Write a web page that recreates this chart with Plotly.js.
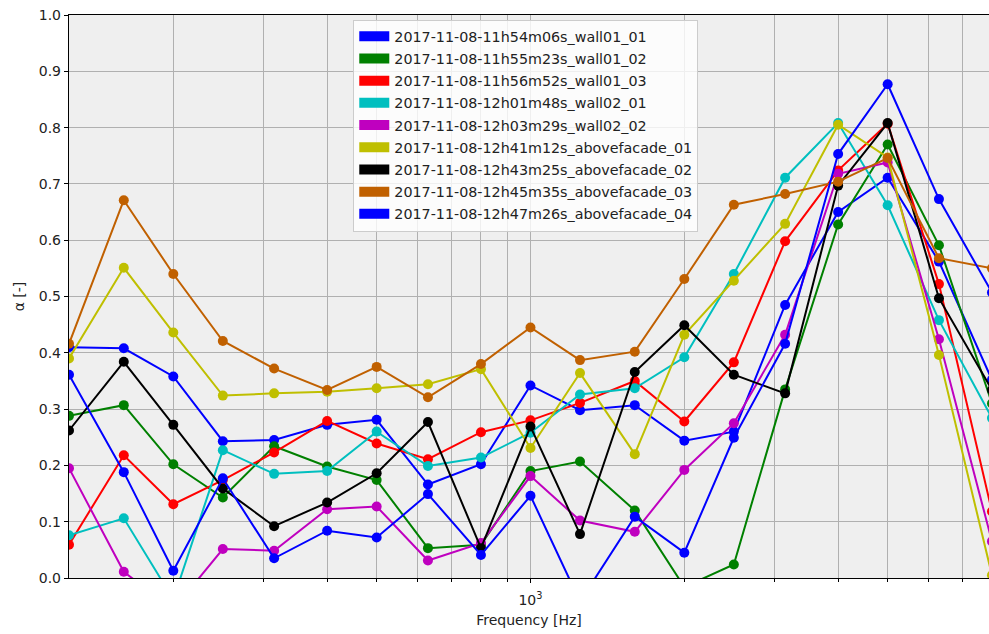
<!DOCTYPE html>
<html>
<head>
<meta charset="utf-8">
<script src="https://cdn.plot.ly/plotly-3.0.1.min.js"></script>
<style>html,body{margin:0;padding:0;background:#fff;}#chart{width:989px;height:634px;}</style>
</head>
<body>
<div id="chart"></div>
<script>
var freqs = [125,160,200,250,315,400,500,630,800,1000,1250,1600,2000,2500,3150,4000,5000,6300,8000];

var seriesNames = [
  "2017-11-08-11h54m06s_wall01_01",
  "2017-11-08-11h55m23s_wall01_02",
  "2017-11-08-11h56m52s_wall01_03",
  "2017-11-08-12h01m48s_wall02_01",
  "2017-11-08-12h03m29s_wall02_02",
  "2017-11-08-12h41m12s_abovefacade_01",
  "2017-11-08-12h43m25s_abovefacade_02",
  "2017-11-08-12h45m35s_abovefacade_03",
  "2017-11-08-12h47m26s_abovefacade_04"
];

var wall01_01 = [0.410,0.408,0.358,0.243,0.245,0.272,0.281,0.166,0.202,0.342,0.298,0.307,0.244,0.260,0.485,0.650,0.711,0.562,0.352];
var wall01_02 = [0.288,0.307,0.202,0.143,0.234,0.198,0.174,0.053,0.059,0.190,0.207,0.120,-0.016,0.024,0.335,0.628,0.770,0.591,0.310];
var wall01_03 = [0.059,0.218,0.131,0.174,0.223,0.279,0.239,0.211,0.259,0.280,0.311,0.350,0.278,0.383,0.598,0.724,0.807,0.522,0.118];
var wall02_01 = [0.076,0.106,-0.038,0.227,0.185,0.190,0.260,0.199,0.214,0.258,0.326,0.337,0.392,0.540,0.711,0.808,0.662,0.458,0.284];
var wall02_02 = [0.195,0.011,-0.056,0.0515,0.0485,0.122,0.127,0.031,0.062,0.181,0.102,0.082,0.192,0.275,0.432,0.718,0.738,0.424,0.065];
var abovefacade_01 = [0.390,0.551,0.436,0.324,0.328,0.331,0.337,0.344,0.371,0.231,0.364,0.220,0.432,0.528,0.629,0.805,0.747,0.396,0.005];
var abovefacade_02 = [0.262,0.384,0.272,0.159,0.092,0.134,0.186,0.277,0.053,0.269,0.078,0.366,0.449,0.361,0.328,0.697,0.808,0.497,0.334];
var abovefacade_03 = [0.416,0.671,0.540,0.421,0.372,0.334,0.375,0.321,0.380,0.445,0.387,0.402,0.531,0.663,0.682,0.704,0.746,0.568,0.550];
var abovefacade_04 = [0.361,0.188,0.013,0.177,0.035,0.084,0.072,0.149,0.041,0.146,-0.042,0.109,0.045,0.249,0.416,0.753,0.877,0.673,0.507];

var xTickVals = [1000];
var xTickText = ["10<sup>3</sup>"];
var xMinorVals = [200,300,400,500,600,700,800,900,2000,3000,4000,5000,6000,7000];

var allSeries = [wall01_01, wall01_02, wall01_03, wall02_01, wall02_02, abovefacade_01, abovefacade_02, abovefacade_03, abovefacade_04];
var colors = ["#0000ff","#008000","#ff0000","#00bfbf","#bf00bf","#bfbf00","#000000","#c06000","#0000ff"];

var FONT = "DejaVu Sans, sans-serif";
var traces = [];
allSeries.forEach(function(vals, i){
  traces.push({
    type: "scatter", mode: "lines+markers",
    x: freqs, y: vals, name: seriesNames[i],
    line: {color: colors[i], width: 2},
    marker: {color: colors[i], size: 10, symbol: "circle"},
    showlegend: false, hoverinfo: "x+y+name"
  });
});
// legend-only patch entries
allSeries.forEach(function(vals, i){
  traces.push({
    type: "scatter", mode: "lines",
    x: [null], y: [null], name: seriesNames[i],
    legendgroup: "g" + i,
    line: {color: colors[i], width: 10},
    showlegend: true, hoverinfo: "skip"
  });
});

var layout = {
  width: 989, height: 634,
  margin: {l: 69, r: 0, t: 15, b: 56, pad: 0},
  paper_bgcolor: "#ffffff",
  plot_bgcolor: "#efefef",
  font: {family: FONT, size: 14, color: "#222222"},
  showlegend: true,
  legend: {
    x: 0.309, y: 0.992, xanchor: "left", yanchor: "top",
    bgcolor: "rgba(255,255,255,0.8)", bordercolor: "#cccccc", borderwidth: 1,
    font: {family: FONT, size: 14.3, color: "#222222"},
    tracegroupgap: 0.6
  },
  xaxis: {
    type: "log",
    range: [Math.log10(125), 3.8973],
    tickmode: "array", tickvals: xTickVals, ticktext: xTickText,
    ticks: "outside", ticklen: 4, tickwidth: 1, tickcolor: "#000",
    ticklabelstandoff: 5,
    showgrid: true, gridcolor: "#b0b0b0", gridwidth: 1,
    minor: {tickmode: "array", tickvals: xMinorVals, ticks: "outside", ticklen: 3, tickwidth: 1, tickcolor: "#000", showgrid: true, gridcolor: "#b0b0b0", gridwidth: 1},
    showline: true, linecolor: "#000", linewidth: 1.2, mirror: true,
    zeroline: false,
    tickfont: {family: FONT, size: 14, color: "#222222"},
    title: {text: "Frequency [Hz]", font: {family: FONT, size: 14, color: "#222222"}, standoff: 8},
    automargin: false
  },
  yaxis: {
    range: [0, 1],
    tickmode: "linear", tick0: 0, dtick: 0.1, tickformat: ".1f",
    ticks: "outside", ticklen: 4, tickwidth: 1, tickcolor: "#000",
    showgrid: true, gridcolor: "#b0b0b0", gridwidth: 1,
    showline: true, linecolor: "#000", linewidth: 1.2, mirror: false,
    zeroline: false,
    tickfont: {family: FONT, size: 14, color: "#222222"},
    title: {text: "α [-]", font: {family: FONT, size: 14, color: "#222222"}, standoff: 10},
    automargin: false
  }
};

Plotly.newPlot("chart", traces, layout, {displayModeBar: false, staticPlot: true});
</script>
</body>
</html>
